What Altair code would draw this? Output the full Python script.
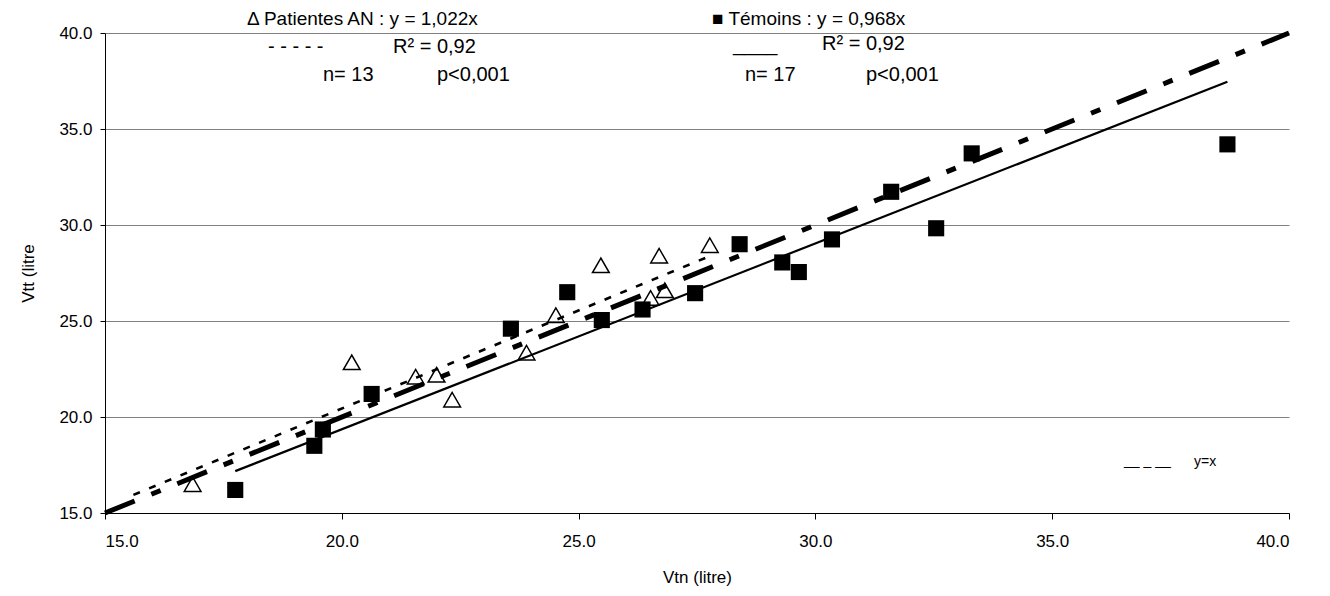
import altair as alt
import pandas as pd

FONT = "Liberation Sans"

# ---- data ----
# Patientes AN (open triangles)
an_vtn = [16.85, 20.21, 21.56, 22.00, 22.33, 23.90, 24.52, 25.47, 26.52, 26.70, 26.82, 27.77]
an_vtt = [16.50, 22.85, 22.10, 22.20, 20.90, 23.35, 25.30, 27.90, 26.20, 28.40, 26.60, 28.95]

# Témoins (filled squares)
tem_vtn = [17.75, 19.42, 19.60, 20.63, 23.57, 24.76, 25.49, 26.35, 27.46, 28.40,
           29.30, 29.65, 30.35, 31.60, 32.55, 33.30, 38.70]
tem_vtt = [16.20, 18.50, 19.35, 21.20, 24.60, 26.50, 25.05, 25.60, 26.45, 29.00,
           28.05, 27.55, 29.25, 31.73, 29.83, 33.73, 34.20]

an_slope = 1.022
tem_slope = 0.968
an_fit_range = [15.6, 27.77]
tem_fit_range = [17.75, 38.70]
identity_range = [15.0, 40.0]

axis_ticks = [15, 20, 25, 30, 35, 40]

# ---- tables ----
df_an = pd.DataFrame({"vtn": an_vtn, "vtt": an_vtt})
df_tem = pd.DataFrame({"vtn": tem_vtn, "vtt": tem_vtt})
df_an_fit = pd.DataFrame({"vtn": an_fit_range, "vtt": [an_slope * v for v in an_fit_range]})
df_tem_fit = pd.DataFrame({"vtn": tem_fit_range, "vtt": [tem_slope * v for v in tem_fit_range]})
df_id = pd.DataFrame({"vtn": identity_range, "vtt": identity_range})

W, H = 1184, 480
xs = alt.Scale(domain=[15, 40], nice=False, zero=False)
ys = alt.Scale(domain=[15, 40], nice=False, zero=False)

xaxis = alt.Axis(values=axis_ticks, format=".1f", grid=False, domainColor="black",
                 domainWidth=1, tickColor="black", tickSize=6, labelPadding=14,
                 labelFont=FONT, labelFontSize=17, labelColor="black",
                 title="Vtn (litre)", titleFont=FONT, titleFontSize=17,
                 titleFontWeight="normal", titleColor="black", titleY=64,
                 titleBaseline="middle")
yaxis = alt.Axis(values=axis_ticks, format=".1f", grid=True, gridColor="#808080",
                 gridWidth=1, domainColor="black", domainWidth=1, tickColor="black",
                 tickSize=5, labelPadding=8, labelFont=FONT, labelFontSize=17,
                 labelColor="black", title="Vtt (litre", titleFont=FONT,
                 titleFontSize=17, titleFontWeight="normal", titleColor="black",
                 titleAngle=270, titleX=-77, titleY=240, titleAlign="center",
                 titleBaseline="middle")

X = alt.X("vtn:Q", scale=xs, axis=xaxis)
Y = alt.Y("vtt:Q", scale=ys, axis=yaxis)

identity = alt.Chart(df_id).mark_line(color="black", strokeWidth=5,
                                      strokeDash=[32, 18, 10, 18]).encode(x=X, y=Y)
an_line = alt.Chart(df_an_fit).mark_line(color="black", strokeWidth=2.6,
                                         strokeDash=[7, 10]).encode(x="vtn:Q", y="vtt:Q")
tem_line = alt.Chart(df_tem_fit).mark_line(color="black", strokeWidth=2.2).encode(
    x="vtn:Q", y="vtt:Q")

tri = alt.Chart(df_an).mark_point(shape="triangle-up", size=280, filled=False,
                                  color="black", strokeWidth=1.5, opacity=1).encode(
    x="vtn:Q", y="vtt:Q")
sq = alt.Chart(df_tem).mark_point(shape="square", size=260, filled=True,
                                  color="black", opacity=1).encode(x="vtn:Q", y="vtt:Q")


def note(label, px, py, size=20, baseline="middle"):
    return alt.Chart(pd.DataFrame({"t": [label]})).mark_text(
        font=FONT, fontSize=size, color="black", align="left", baseline=baseline
    ).encode(x=alt.value(px), y=alt.value(py), text="t:N")


notes = [
    note("Δ Patientes AN : y = 1,022x", 142, -14, size=19),
    note("- - - - -", 163, 14),
    note("R² = 0,92", 288, 14),
    note("n= 13", 218, 42),
    note("p<0,001", 332, 42),
    note("■ Témoins : y = 0,968x", 607, -14, size=19),
    note("____", 628, 18, baseline="alphabetic"),
    note("R² = 0,92", 717, 11),
    note("n= 17", 640, 42),
    note("p<0,001", 761, 42),
    note("__ _ __", 1019, 432, size=14, baseline="alphabetic"),
    note("y=x", 1089, 429, size=14),
]

chart = alt.layer(identity, an_line, tem_line, tri, sq, *notes).properties(
    width=W, height=H,
    autosize=alt.AutoSizeParams(type="none"),
    padding={"left": 97, "top": 25, "right": 33, "bottom": 75},
).configure_view(stroke=None)

chart.save("out.html", embed_options={"renderer": "svg", "actions": False})
